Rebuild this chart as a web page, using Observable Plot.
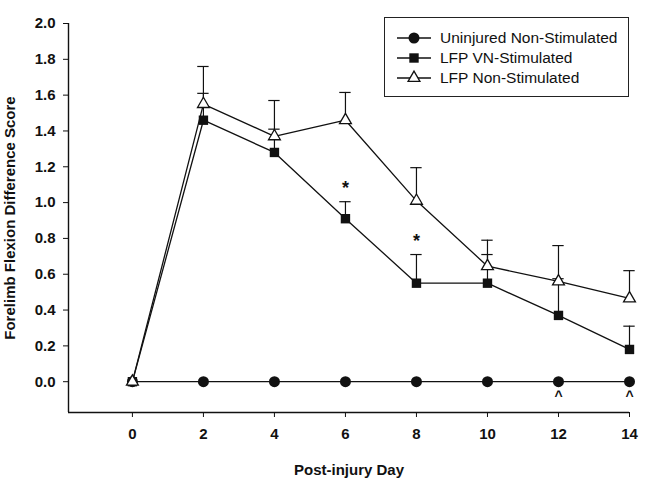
<!DOCTYPE html>
<html>
<head>
<meta charset="utf-8">
<script src="https://cdn.jsdelivr.net/npm/d3@7"></script>
<script src="https://cdn.jsdelivr.net/npm/@observablehq/plot@0.6"></script>
<style>
  html, body { margin: 0; padding: 0; background: #fff; }
  #wrap { position: relative; width: 651px; height: 484px; font-family: "Liberation Sans", Arial, sans-serif; }
  #legend { position: absolute; left: 384px; top: 17px; width: 245px; height: 80px; border: 1px solid #222; background: #fff; box-sizing: border-box; }
  .row { position: absolute; left: 0; height: 20px; display: flex; align-items: center; }
  .row svg { display: block; margin-left: 12px; }
  .row span { margin-left: 9px; font-size: 15.5px; color: #111; white-space: nowrap; }
</style>
</head>
<body>
<div id="wrap"></div>
<script>
// ---- data ----
const days = [0, 2, 4, 6, 8, 10, 12, 14];
const seriesNames = ["Uninjured Non-Stimulated", "LFP VN-Stimulated", "LFP Non-Stimulated"];
const uninjured = [0, 0, 0, 0, 0, 0, 0, 0];
const vnStim = [0, 1.46, 1.28, 0.91, 0.55, 0.55, 0.37, 0.18];
const vnStimTop = [null, 1.61, 1.41, 1.005, 0.71, 0.71, 0.575, 0.31];
const lfpNon = [0, 1.55, 1.37, 1.46, 1.01, 0.645, 0.56, 0.465];
const lfpNonTop = [null, 1.76, 1.57, 1.615, 1.195, 0.79, 0.76, 0.62];
const starDays = [6, 8];        // "*" above LFP VN-Stimulated
const caretDays = [12, 14];     // "^" below Uninjured
const xTicks = [0, 2, 4, 6, 8, 10, 12, 14];
const yTicks = [0, 0.2, 0.4, 0.6, 0.8, 1.0, 1.2, 1.4, 1.6, 1.8, 2.0];
const xDomain = [-1.8, 14];
const yDomain = [-0.172, 2.0];

// ---- build table ----
const symbols = ["circle", "square", "triangle"];
const valuesBySeries = [uninjured, vnStim, lfpNon];
const topsBySeries = [null, vnStimTop, lfpNonTop];
const rows = [];
valuesBySeries.forEach((vals, s) => {
  days.forEach((d, i) => {
    rows.push({series: seriesNames[s], s, day: d, value: vals[i], top: topsBySeries[s] ? topsBySeries[s][i] : null});
  });
});
const errRows = rows.filter(r => r.top != null);
const stars = starDays.map(d => ({day: d, y: vnStimTop[days.indexOf(d)]}));
const carets = caretDays.map(d => ({day: d, y: uninjured[days.indexOf(d)]}));
const capHalf = 0.16;

const font = "Liberation Sans, Arial, sans-serif";

const chart = Plot.plot({
  width: 651,
  height: 484,
  marginLeft: 68,
  marginRight: 22,
  marginTop: 23,
  marginBottom: 72,
  style: {fontFamily: font, fontSize: "15px", color: "#111", background: "#fff", overflow: "visible"},
  x: {domain: xDomain},
  y: {domain: yDomain},
  marks: [
    Plot.ruleX([xDomain[0]], {y1: yDomain[0], y2: yDomain[1], stroke: "#111", strokeWidth: 1.4}),
    Plot.ruleY([yDomain[0]], {x1: xDomain[0], x2: xDomain[1], stroke: "#111", strokeWidth: 1.4}),
    Plot.axisX({ticks: xTicks, tickSize: 5, tickPadding: 11, tickFormat: d3.format("d"), fontWeight: "bold", fontSize: 15,
      label: "Post-injury Day", labelAnchor: "center", labelOffset: 62, labelArrow: "none"}),
    Plot.axisY({ticks: yTicks, tickSize: 5, tickPadding: 8, tickFormat: d3.format(".1f"), fontWeight: "bold", fontSize: 15,
      label: "Forelimb Flexion Difference Score", labelAnchor: "center", labelOffset: 64, labelArrow: "none"}),
    // error bars
    Plot.ruleX(errRows, {x: "day", y1: "value", y2: "top", stroke: "#111", strokeWidth: 1.2}),
    Plot.ruleY(errRows, {y: "top", x1: d => d.day - capHalf, x2: d => d.day + capHalf, stroke: "#111", strokeWidth: 1.2}),
    // lines
    Plot.line(rows, {x: "day", y: "value", z: "series", stroke: "#111", strokeWidth: 1.3}),
    // markers
    Plot.dot(rows.filter(r => r.s === 0), {x: "day", y: "value", symbol: "circle", r: 5.5, fill: "#111", stroke: "none"}),
    Plot.dot(rows.filter(r => r.s === 1), {x: "day", y: "value", symbol: "square", r: 5.3, fill: "#111", stroke: "none"}),
    Plot.dot(rows.filter(r => r.s === 2), {x: "day", y: "value", symbol: "triangle", r: 4.4, fill: "#fff", stroke: "#111", strokeWidth: 1.3}),
    // annotations
    Plot.text(stars, {x: "day", y: "y", text: () => "*", dy: -13, fontWeight: "bold", fontSize: 18, fill: "#111"}),
    Plot.text(carets, {x: "day", y: "y", text: () => "^", dy: 15, fontWeight: "bold", fontSize: 14, fill: "#111"})
  ]
});

const wrap = document.getElementById("wrap");
wrap.appendChild(chart);

// ---- legend ----
const legend = document.createElement("div");
legend.id = "legend";
seriesNames.forEach((name, i) => {
  const row = document.createElement("div");
  row.className = "row";
  row.style.top = (10 + i * 20) + "px";
  const sym = d3.symbol(d3["symbol" + symbols[i][0].toUpperCase() + symbols[i].slice(1)], i === 0 ? Math.PI * 5.5 * 5.5 : i === 1 ? Math.PI * 5.3 * 5.3 : Math.PI * 4.4 * 4.4)();
  const fill = i === 2 ? "#fff" : "#111";
  const stroke = i === 2 ? "#111" : "none";
  row.innerHTML = `<svg width="34" height="20"><line x1="0" x2="34" y1="10" y2="10" stroke="#111" stroke-width="1.3"/>` +
    `<path d="${sym}" transform="translate(17,10)" fill="${fill}" stroke="${stroke}" stroke-width="1.3"/></svg><span>${name}</span>`;
  legend.appendChild(row);
});
wrap.appendChild(legend);
</script>
</body>
</html>
